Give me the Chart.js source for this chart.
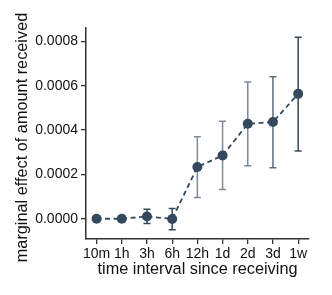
<!DOCTYPE html>
<html>
<head>
<meta charset="utf-8">
<script src="https://cdn.jsdelivr.net/npm/chart.js@4/dist/chart.umd.min.js"></script>
<style>
    html, body { margin: 0; padding: 0; background: #fff; }
    #wrap { width: 332px; height: 295px; }
</style>
</head>
<body>
<div id="wrap"><canvas id="chart" width="332" height="295"></canvas></div>
<script>
// data
const categories = ['10m', '1h', '3h', '6h', '12h', '1d', '2d', '3d', '1w'];
const effect = [0.0, 0.0, 0.00001, -0.000001, 0.000233, 0.000285, 0.000428, 0.000436, 0.000563];
const errLow = [-0.000004, -0.000004, -0.000022, -0.00005, 0.000096, 0.000132, 0.000239, 0.00023, 0.000305];
const errHigh = [0.000004, 0.000004, 0.000043, 0.000046, 0.00037, 0.00044, 0.000616, 0.00064, 0.000818];
const yTicks = [0.0, 0.0002, 0.0004, 0.0006, 0.0008];
const xTitle = 'time interval since receiving';
const yTitle = 'marginal effect of amount received';

const mainColor = '#34495e';
const barColors = ['#34495e', '#34495e', '#34495e', '#34495e', '#7d8a98', '#7d8a98', '#7d8a98', '#5d6c7c', '#34495e'];
const axisColor = '#333333';
const fontFamily = '"Liberation Sans", Arial, sans-serif';
const tickFont = { family: fontFamily, size: 14 };
const titleFont = { family: fontFamily, size: 16.3 };

// error bars drawn with the chart's own scales
const errorBars = {
    id: 'errorBars',
    beforeDatasetsDraw(chart) {
        const ctx = chart.ctx;
        const xs = chart.scales.x, ys = chart.scales.y;
        ctx.save();
        ctx.lineWidth = 1.5;
        categories.forEach((c, i) => {
            const x = xs.getPixelForValue(i);
            const y1 = ys.getPixelForValue(errLow[i]);
            const y2 = ys.getPixelForValue(errHigh[i]);
            ctx.strokeStyle = barColors[i];
            ctx.beginPath();
            ctx.moveTo(x, y1); ctx.lineTo(x, y2);
            ctx.moveTo(x - 3.5, y1); ctx.lineTo(x + 3.5, y1);
            ctx.moveTo(x - 3.5, y2); ctx.lineTo(x + 3.5, y2);
            ctx.stroke();
        });
        ctx.restore();
    }
};

// y axis label, centred a little below the axis middle like the reference
const yLabel = {
    id: 'yLabel',
    afterDraw(chart) {
        const ctx = chart.ctx;
        const a = chart.chartArea;
        ctx.save();
        ctx.translate(23, (a.top + a.bottom) / 2 + 4);
        ctx.rotate(-Math.PI / 2);
        ctx.font = titleFont.size + 'px ' + fontFamily;
        ctx.fillStyle = '#111';
        ctx.textAlign = 'center';
        ctx.textBaseline = 'middle';
        ctx.fillText(yTitle, 0, 0);
        ctx.restore();
    }
};

new Chart(document.getElementById('chart'), {
    type: 'line',
    data: {
        datasets: [{
            data: effect.map((v, i) => ({ x: i, y: v })),
            borderColor: mainColor,
            backgroundColor: mainColor,
            borderWidth: 1.8,
            borderDash: [5, 3.5],
            pointRadius: 5,
            pointBorderWidth: 0,
            pointBackgroundColor: mainColor,
            tension: 0
        }]
    },
    options: {
        responsive: false,
        animation: false,
        layout: { padding: { left: 0, top: 28, right: 23, bottom: 16 } },
        plugins: { legend: { display: false }, tooltip: { enabled: false } },
        scales: {
            x: {
                type: 'linear',
                min: -0.42,
                max: 8.43,
                afterBuildTicks: s => { s.ticks = categories.map((c, i) => ({ value: i })); },
                afterFit: s => { s.height = 40; },
                ticks: {
                    color: '#111',
                    font: tickFont,
                    padding: 2,
                    maxRotation: 0,
                    autoSkip: false,
                    callback: v => categories[v]
                },
                grid: { display: true, drawOnChartArea: false, tickLength: 5, color: axisColor, lineWidth: 1.3 },
                border: { display: true, color: axisColor, width: 1.5 },
                title: { display: true, text: xTitle, color: '#111', font: titleFont, padding: { top: 0, bottom: 0 } }
            },
            y: {
                min: -0.0000914,
                max: 0.00086,
                afterBuildTicks: s => { s.ticks = yTicks.map(v => ({ value: v })); },
                afterFit: s => { s.width = 86; },
                ticks: {
                    color: '#111',
                    font: tickFont,
                    padding: 3,
                    callback: v => v.toFixed(4)
                },
                grid: { display: true, drawOnChartArea: false, tickLength: 5, color: axisColor, lineWidth: 1.3 },
                border: { display: true, color: axisColor, width: 1.5 },
                title: { display: false }
            }
        }
    },
    plugins: [errorBars, yLabel]
});
</script>
</body>
</html>
